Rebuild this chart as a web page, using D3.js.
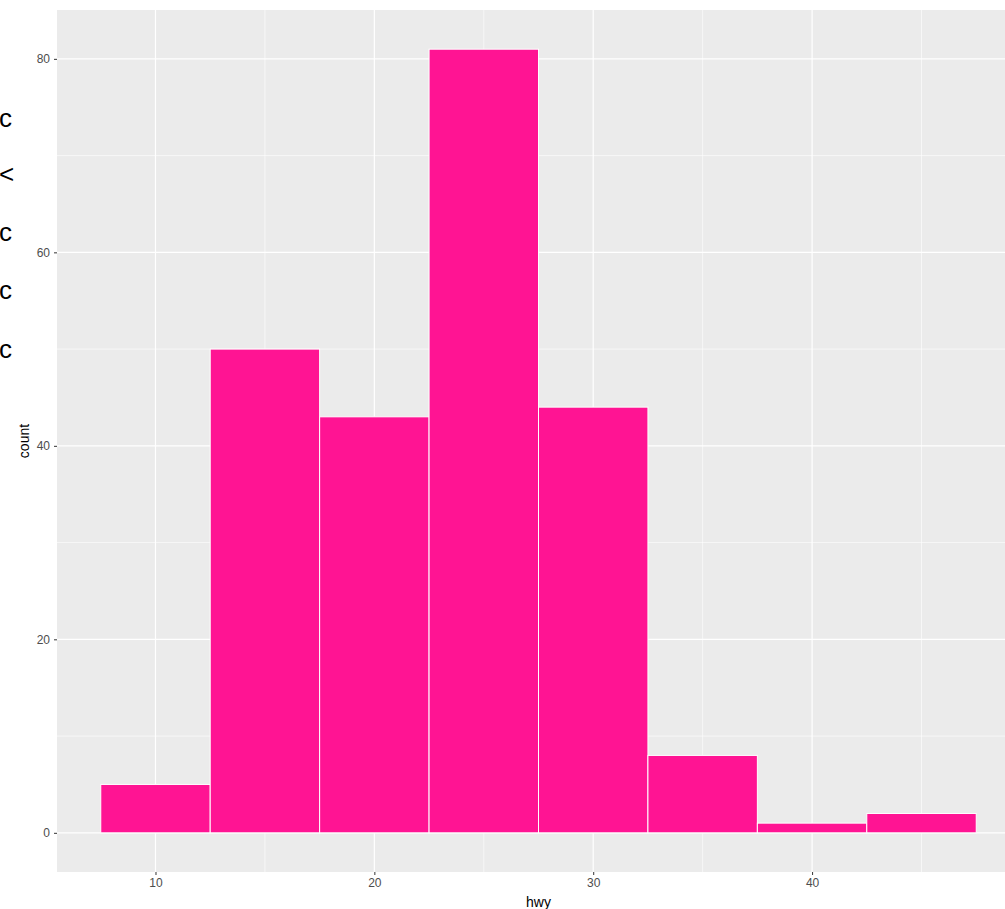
<!DOCTYPE html>
<html>
<head>
<meta charset="utf-8">
<script src="https://cdn.jsdelivr.net/npm/d3@7"></script>
<style>
  body { margin: 0; background: #fff; }
  text { font-family: "Liberation Sans", Arial, sans-serif; }
</style>
</head>
<body>
<div id="chart"></div>
<script>
// hwy histogram, binwidth 5
const binStarts = [7.5, 12.5, 17.5, 22.5, 27.5, 32.5, 37.5, 42.5];
const counts = [5, 50, 43, 81, 44, 8, 1, 2];
const binWidth = 5;
const xTicks = [10, 20, 30, 40];
const xMinor = [15, 25, 35, 45];
const yTicks = [0, 20, 40, 60, 80];
const yMinor = [10, 30, 50, 70];
const strayGlyphs = ["c", "<", "c", "c", "c"];

const width = 1005;
const height = 909;
const panel = { left: 57, top: 10, right: 1020, bottom: 872 };

const svg = d3.select("#chart")
  .append("svg")
  .attr("width", width)
  .attr("height", height);

// ggplot-style expansion of 5%
const xLo = binStarts[0], xHi = binStarts[binStarts.length - 1] + binWidth;
const xPad = (xHi - xLo) * 0.05;
const x = d3.scaleLinear()
  .domain([xLo - xPad, xHi + xPad])
  .range([panel.left, panel.right]);

const yMax = d3.max(counts);
const y = d3.scaleLinear()
  .domain([-yMax * 0.05, yMax * 1.05])
  .range([panel.bottom, panel.top]);

svg.append("rect")
  .attr("x", panel.left)
  .attr("y", panel.top)
  .attr("width", panel.right - panel.left)
  .attr("height", panel.bottom - panel.top)
  .attr("fill", "#EBEBEB");

const grid = svg.append("g");
grid.selectAll(".xminor").data(xMinor).join("line")
  .attr("x1", d => x(d)).attr("x2", d => x(d))
  .attr("y1", panel.top).attr("y2", panel.bottom)
  .attr("stroke", "#fff").attr("stroke-width", 0.6);
grid.selectAll(".yminor").data(yMinor).join("line")
  .attr("y1", d => y(d)).attr("y2", d => y(d))
  .attr("x1", panel.left).attr("x2", panel.right)
  .attr("stroke", "#fff").attr("stroke-width", 0.6);
grid.selectAll(".xmajor").data(xTicks).join("line")
  .attr("x1", d => x(d)).attr("x2", d => x(d))
  .attr("y1", panel.top).attr("y2", panel.bottom)
  .attr("stroke", "#fff").attr("stroke-width", 1.2);
grid.selectAll(".ymajor").data(yTicks).join("line")
  .attr("y1", d => y(d)).attr("y2", d => y(d))
  .attr("x1", panel.left).attr("x2", panel.right)
  .attr("stroke", "#fff").attr("stroke-width", 1.2);

svg.append("g")
  .selectAll("rect")
  .data(counts)
  .join("rect")
    .attr("x", (d, i) => x(binStarts[i]))
    .attr("y", d => y(d))
    .attr("width", x(binWidth) - x(0))
    .attr("height", d => y(0) - y(d))
    .attr("fill", "#FF1493")
    .attr("stroke", "#fff")
    .attr("stroke-width", 1);

function yAxis(g) {
  g.attr("transform", `translate(${panel.left},0)`)
    .call(d3.axisLeft(y).tickValues(yTicks).tickSize(3).tickPadding(4))
    .call(g => g.select(".domain").remove())
    .call(g => g.selectAll(".tick line").attr("stroke", "#333"))
    .call(g => g.selectAll(".tick text")
      .attr("fill", "#4D4D4D").attr("font-size", "12px")
      .attr("font-family", "Liberation Sans, Arial, sans-serif"));
}

function xAxis(g) {
  g.attr("transform", `translate(0,${panel.bottom})`)
    .call(d3.axisBottom(x).tickValues(xTicks).tickSize(3).tickPadding(3))
    .call(g => g.select(".domain").remove())
    .call(g => g.selectAll(".tick line").attr("stroke", "#333"))
    .call(g => g.selectAll(".tick text")
      .attr("fill", "#4D4D4D").attr("font-size", "12px")
      .attr("font-family", "Liberation Sans, Arial, sans-serif"));
}

svg.append("g").call(xAxis);
svg.append("g").call(yAxis);

svg.append("text")
  .attr("x", (panel.left + panel.right) / 2)
  .attr("y", 907)
  .attr("text-anchor", "middle")
  .attr("font-size", "14px")
  .attr("fill", "#000")
  .text("hwy");

svg.append("text")
  .attr("transform", `translate(29,${(panel.top + panel.bottom) / 2}) rotate(-90)`)
  .attr("text-anchor", "middle")
  .attr("font-size", "14px")
  .attr("fill", "#000")
  .text("count");

// clipped glyphs at the left edge
const glyphY = [127, 183, 241, 299, 358];
svg.append("g")
  .selectAll("text")
  .data(strayGlyphs)
  .join("text")
    .attr("x", -1)
    .attr("y", (d, i) => glyphY[i])
    .attr("font-size", "26px")
    .attr("font-family", "DejaVu Sans, sans-serif")
    .attr("fill", "#000")
    .text(d => d);
</script>
</body>
</html>
